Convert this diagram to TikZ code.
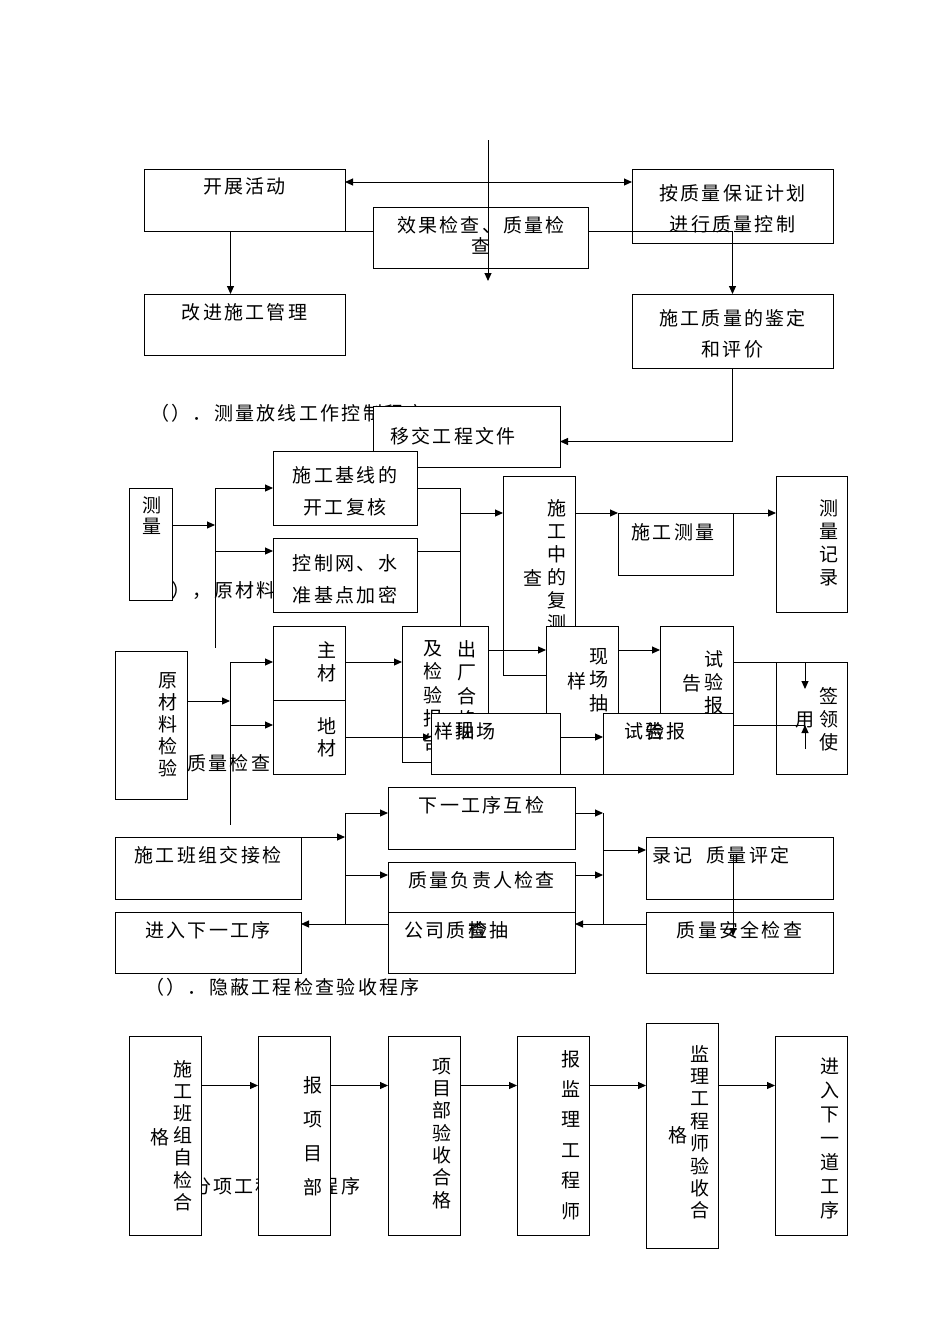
\documentclass[tikz,border=0pt]{standalone}
\usepackage{fontspec}
\newfontfamily\cjk[LetterSpace=12]{Noto Sans CJK SC}
\usetikzlibrary{calc,arrows.meta}
\newcommand\bx[5]{\node[bx,minimum width=#4pt,minimum height=#5pt] (#1) at (#2,#3) {};}
\newcommand\tx[4]{\node[tx] (#1) at (#2,#3) {#4};}
\newcommand\tw[4]{\node[tx,anchor=west] (#1) at (#2,#3) {#4};}
\newcommand\tc[5]{\node[tx,anchor=north,align=center,font=\cjk\fontsize{19}{#4}\selectfont] (#1) at (#2,#3-10) {#5};}
\begin{document}
\begin{tikzpicture}[x=1pt,y=-1pt,
  bx/.style={draw,fill=white,line width=1pt,inner sep=0pt,outer sep=0pt},
  tx/.style={inner sep=0pt,font=\cjk\fontsize{19}{23}\selectfont},
  ln/.style={line width=1pt},
  ar/.style={line width=1pt,-{Triangle[length=8pt,width=7pt]}}]
\useasboundingbox[fill=white] (0,0) rectangle (950,1344);
% top section
\bx{kz}{244.5}{200}{201}{62} \tx{tkz}{244.5}{186}{开展活动}
\bx{xg}{480.5}{237.5}{215}{61} \tx{txg}{481}{225}{效果检查、质量检} \tx{txg2}{481}{246}{查}
\bx{az}{732.5}{206}{201}{74} \tx{taz}{732.5}{193}{按质量保证计划} \tx{taz2}{732.5}{224}{进行质量控制}
\bx{gj}{244.5}{324.5}{201}{61} \tx{tgj}{244.5}{312}{改进施工管理}
\bx{jd}{732.5}{331}{201}{74} \tx{tjd}{732.5}{318}{施工质量的鉴定} \tx{tjd2}{732.5}{349}{和评价}
% measurement section
\tw{ti1}{150}{413}{（）．测量放线工作控制程序}
\bx{yj}{466.5}{436.5}{187}{61} \tx{tyj}{453}{436}{移交工程文件}
\tw{ti2}{150}{590}{（），原材料试验程序}
\bx{jx}{345}{488}{144}{74} \tx{tjx}{345}{475}{施工基线的} \tx{tjx2}{345}{507}{开工复核}
\bx{kzw}{345}{575}{144}{74} \tx{tkzw}{345}{563}{控制网、水} \tx{tkzw2}{345}{595}{准基点加密}
\bx{cl}{150.5}{544}{43}{112} \tc{tcl}{152}{507}{21}{测\\量}
\bx{sgz}{539}{575.5}{72}{199} \tc{tsgz}{557}{509}{23}{施\\工\\中\\的\\复\\测} \tx{tsgz2}{533}{578}{查}
\bx{sgcl}{675.5}{544}{115}{62} \tx{tsgcl}{673}{532}{施工测量}
\bx{cljl}{811.5}{544}{71}{136} \tc{tcljl}{829}{510}{23}{测\\量\\记\\录}
% material section
\tw{ti3}{187}{763}{质量检查}
\bx{ycl}{151}{725}{72}{148} \tc{tycl}{168}{682}{22}{原\\材\\料\\检\\验}
\bx{zc}{309}{663}{72}{74} \tc{tzc}{327}{651}{23}{主\\材}
\bx{dc}{309}{737}{72}{74} \tc{tdc}{327}{727}{22}{地\\材}
\bx{cc}{445}{694}{86}{136} \tc{tcc}{467}{650}{23.5}{出\\厂\\合\\格\\证} \tc{tcc2}{433}{650}{23.5}{及\\检\\验\\报\\告}
\bx{xc}{582}{700}{72}{148} \tc{txc}{599}{658}{23.5}{现\\场\\抽} \tx{txc2}{577}{681}{样}
\bx{sy1}{696.5}{700}{73}{148} \tc{tsy1}{714}{660}{23}{试\\验\\报} \tx{tsy12}{692}{683}{告}
\bx{cy}{495.5}{743.5}{129}{61} \tx{tcy}{465}{731}{样抽场} \tx{tcy2}{465}{731}{现}
\bx{sy2}{668}{743.5}{130}{61} \tx{tsy2}{655}{731}{试验报} \tx{tsy22}{655}{731}{告}
\bx{qy}{811.5}{718}{71}{112} \tc{tqy}{829}{697}{23}{签\\领\\使} \tx{tqy2}{805}{720}{用}
% process section
\bx{bz}{208}{868}{186}{62} \tx{tbz}{208}{855}{施工班组交接检}
\bx{xy}{481.5}{818}{187}{62} \tx{txy}{481.5}{805}{下一工序互检}
\bx{fz}{481.5}{893}{187}{62} \tx{tfz}{481.5}{880}{质量负责人检查}
\bx{gs}{481.5}{942.5}{187}{61} \tw{tgs}{404}{930}{公司质检抽} \tw{tgs2}{468}{930}{查}
\bx{jr}{208}{942.5}{186}{61} \tx{tjr}{208}{930}{进入下一工序}
\bx{lj}{739.5}{868}{187}{62} \tw{tlj}{652}{855}{录记\hspace{14pt}质量评定}
\bx{aq}{739.5}{942.5}{187}{61} \tx{taq}{739.5}{930}{质量安全检查}
\tw{ti4}{145}{987}{（）．隐蔽工程检查验收程序}
% bottom section
\tw{ti5}{128}{1186}{（）．分项工程验收程序}
\bx{b1}{165}{1135.5}{72}{199} \tc{tb1}{183}{1070}{22.2}{施\\工\\班\\组\\自\\检\\合} \tx{tb12}{160}{1137}{格}
\bx{b2}{294}{1135.5}{72}{199} \tc{tb2}{313}{1086}{34}{报\\项\\目\\部}
\bx{b3}{424}{1135.5}{72}{199} \tc{tb3}{442}{1068}{22.3}{项\\目\\部\\验\\收\\合\\格}
\bx{b4}{553}{1135.5}{72}{199} \tc{tb4}{571}{1060}{30.4}{报\\监\\理\\工\\程\\师}
\bx{b5}{682}{1135.5}{72}{225} \tc{tb5}{700}{1055}{22.4}{监\\理\\工\\程\\师\\验\\收\\合} \tx{tb52}{678}{1135}{格}
\bx{b6}{811}{1135.5}{72}{199} \tc{tb6}{830}{1068}{24}{进\\入\\下\\一\\道\\工\\序}
% coordinates
\coordinate (vt) at (488,140); \coordinate (vb) at (488,281);
\coordinate (m1) at (215,525); \coordinate (m1t) at (215,488); \coordinate (m1m) at (215,551); \coordinate (m1b) at (215,648);
\coordinate (m2t) at (460,488); \coordinate (m2m) at (460,551); \coordinate (m2a) at (460,513); \coordinate (m2b) at (460,626);
\coordinate (r1) at (230,701); \coordinate (r1t) at (230,662); \coordinate (r1m) at (230,725); \coordinate (r1b) at (230,825);
\coordinate (s1) at (805,662); \coordinate (s1b) at (805,689); \coordinate (s2) at (805,725); \coordinate (s2b) at (805,749);
\coordinate (p1) at (345,837); \coordinate (p1t) at (345,813); \coordinate (p1m) at (345,875); \coordinate (p1b) at (345,924);
\coordinate (q1t) at (603,813); \coordinate (q1m) at (603,875); \coordinate (q1b) at (603,924); \coordinate (q1a) at (603,850);
% connectors top
\draw[ln,{Triangle[length=8pt,width=7pt]}-{Triangle[length=8pt,width=7pt]}] ($(kz.north east)+(0,13)$) -- ($(az.north west)+(0,13)$);
\draw[ar] (vt) -- (vb);
\draw[ar] ($(kz.south)+(-14,0)$) -- ($(gj.north)+(-14,0)$);
\draw[ln] (kz.south east) -- ($(xg.north west)+(0,24)$);
\draw[ar] ($(xg.north east)+(0,24)$) -| (jd.north);
\draw[ar] (jd.south) |- ($(yj.east)+(0,5)$);
% connectors measurement
\draw[ar] ($(cl.north east)+(0,37)$) -- (m1);
\draw[ln] (m1t) -- (m1b);
\draw[ar] (m1t) -- (jx.west);
\draw[ar] (m1m) -- ($(kzw.north west)+(0,13)$);
\draw[ln] (jx.east) -- (m2t) -- (m2b);
\draw[ln] ($(kzw.north east)+(0,13)$) -- (m2m);
\draw[ar] (m2a) -- ($(sgz.north west)+(0,37)$);
\draw[ar] ($(sgz.north east)+(0,37)$) -- (sgcl.north west);
\draw[ar] (sgcl.north east) -- ($(cljl.north west)+(0,37)$);
% connectors material
\draw[ar] ($(ycl.north east)+(0,50)$) -- (r1);
\draw[ln] (r1t) -- (r1b);
\draw[ar] (r1t) -- ($(zc.north west)+(0,36)$);
\draw[ar] (r1m) -- ($(dc.north west)+(0,25)$);
\draw[ar] ($(zc.north east)+(0,36)$) -- ($(cc.north west)+(0,36)$);
\draw[ar] ($(dc.north east)+(0,37)$) -- ($(cy.north west)+(0,24)$);
\draw[ar] ($(cc.north east)+(0,24)$) -- ($(xc.north west)+(0,24)$);
\draw[ar] ($(xc.north east)+(0,24)$) -- ($(sy1.north west)+(0,24)$);
\draw[ar] ($(cy.north east)+(0,24)$) -- ($(sy2.north west)+(0,24)$);
\draw[ln] ($(sy1.north east)+(0,36)$) -- (s1);
\draw[ar] (s1) -- (s1b);
\draw[ln] ($(sy2.north east)+(0,12)$) -- (s2);
\draw[ar] (s2b) -- (s2);
% connectors process
\draw[ar] (bz.north east) -- (p1);
\draw[ln] (p1t) -- (p1b);
\draw[ar] (p1t) -- ($(xy.north west)+(0,26)$);
\draw[ar] (p1m) -- ($(fz.north west)+(0,13)$);
\draw[ar] ($(gs.north west)+(0,12)$) -- ($(jr.north east)+(0,12)$);
\draw[ar] ($(xy.north east)+(0,26)$) -- (q1t);
\draw[ar] ($(fz.north east)+(0,13)$) -- (q1m);
\draw[ln] (q1t) -- (q1b);
\draw[ar] (q1a) -- ($(lj.north west)+(0,13)$);
\draw[ar] ($(aq.north west)+(0,12)$) -- ($(gs.north east)+(0,12)$);
\draw[ar] ($(lj.north west)+(87,18)$) -- ($(aq.north west)+(87,24)$);
% bottom
\foreach \a/\b in {b1/b2,b2/b3,b3/b4,b4/b5,b5/b6}
  \draw[ar] ($(\a.east)+(0,-50)$) -- ($(\b.west)+(0,-50)$);
\end{tikzpicture}
\end{document}
